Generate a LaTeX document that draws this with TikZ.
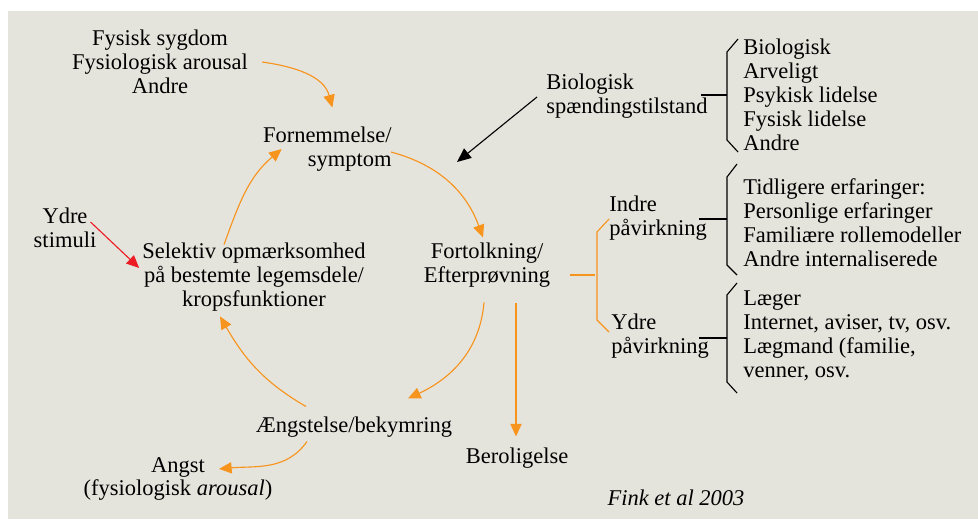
\documentclass[tikz,border=0pt]{standalone}
\usepackage{fontspec}
\setmainfont{Liberation Serif}
\usepackage{tikz}
\usetikzlibrary{arrows.meta}
\usetikzlibrary{calc}
\definecolor{fond}{RGB}{229,228,220}
\definecolor{orng}{RGB}{247,148,29}
\definecolor{rd}{RGB}{237,28,36}

\begin{document}
\begin{tikzpicture}[x=0.025cm,y=-0.025cm,
  txt/.style={inner sep=0pt,font=\fontsize{16}{17}\selectfont},
  oarr/.style={draw=orng,line width=0.8pt,-{Triangle[length=9pt,width=8pt]}},
  barr/.style={draw=black,line width=0.8pt,-{Triangle[length=10pt,width=8.5pt]}},
  rarr/.style={draw=rd,line width=0.8pt,-{Triangle[length=9pt,width=8pt]}},
  oline/.style={draw=orng,line width=0.8pt},
  brace/.style={draw=black,line width=0.8pt}]
\useasboundingbox (0,0) rectangle (978,519);
\fill[fond] (8,11) rectangle (978,519);

\path (160,62) node(fys) [txt,align=center]{Fysisk sygdom\\Fysiologisk arousal\\Andre};
\path (392,149) node(forn) [txt,align=right,anchor=east]{Fornemmelse/\\symptom};
\path (546,96) node(bio) [txt,align=left,anchor=west]{Biologisk\\spændingstilstand};
\path (743,95) node(liste1) [txt,align=left,anchor=west]{Biologisk\\Arveligt\\Psykisk lidelse\\Fysisk lidelse\\Andre};
\path (487,265) node(fort) [txt,align=center]{Fortolkning/\\Efterprøvning};
\path (609,218) node(indre) [txt,align=left,anchor=west]{Indre\\påvirkning};
\path (611,336) node(ydre) [txt,align=left,anchor=west]{Ydre\\påvirkning};
\path (743,223) node(liste2) [txt,align=left,anchor=west]{Tidligere erfaringer:\\Personlige erfaringer\\Familiære rollemodeller\\Andre internaliserede};
\path (743,336) node(liste3) [txt,align=left,anchor=west]{Læger\\Internet, aviser, tv, osv.\\Lægmand (familie,\\venner, osv.};
\path (254,277) node(selektiv) [txt,align=center]{Selektiv opmærksomhed\\på bestemte legemsdele/\\kropsfunktioner};
\path (65,228) node(stimuli) [txt,align=center]{Ydre\\stimuli};
\path (354,427) node(aeng) [txt]{Ængstelse/bekymring};
\path (517,458) node(bero) [txt]{Beroligelse};
\path (178,479) node(angst) [txt,align=center]{Angst\\(fysiologisk \textit{arousal})};
\path (676,498) node(fink) [txt,font=\fontsize{16}{17}\selectfont\itshape]{Fink et al 2003};

% kredsloebet
\draw[oarr] ($(fys.east)+(14,0)$) to[out=-8,in=105] ($(forn.north)+(5,-19)$);
\draw[oarr] ($(forn.east)+(-1,3)$) to[out=-15,in=110] ($(fort.north)+(-4,-5)$);
\draw[oarr] ($(fort.south)+(-3,15)$) to[out=-95,in=25] ($(aeng.north)+(54,-18)$);
\draw[oarr] ($(aeng.north)+(-48,-10)$) to[out=150,in=-60] ($(selektiv.south)+(-34,5)$);
\draw[oarr] ($(selektiv.north)+(-30,2)$) to[out=70,in=-140] ($(forn.west)+(19,0)$);
\draw[oarr] ($(aeng.south)+(-47,4)$) to[out=-125,in=5] ($(angst.north)+(41,12)$);
\draw[oarr] ($(fort.south)+(29,16)$) -- ($(bero.north)+(-1,-11)$);
\draw[barr] ($(bio.west)+(-9,1)$) -- ($(forn.east)+(65,13)$);
\draw[rarr] ($(stimuli.east)+(-6,-6)$) -- ($(selektiv.west)+(-3,-9)$);

% klammer
\draw[oline] ($(fort.east)+(20,10)$) -- ++(25,0);
\draw[oline] ($(indre.west)+(0,1)$) -- ++(-12,13) -- ++(0,88) -- ++(12,12);
\draw[brace] ($(liste1.west)+(-5,-56)$) -- ++(-11,13) -- ++(0,88) -- ++(11,12);
\draw[brace] ($(liste1.west)+(-42,0)$) -- ++(26,0);
\draw[brace] ($(liste2.west)+(-6,-59)$) -- ++(-10,13) -- ++(0,88) -- ++(10,10);
\draw[brace] ($(liste2.west)+(-44,-4)$) -- ++(28,0);
\draw[brace] ($(liste3.west)+(-6,-53)$) -- ++(-10,12) -- ++(0,87) -- ++(10,11);
\draw[brace] ($(liste3.west)+(-44,2)$) -- ++(28,0);
\end{tikzpicture}
\end{document}
